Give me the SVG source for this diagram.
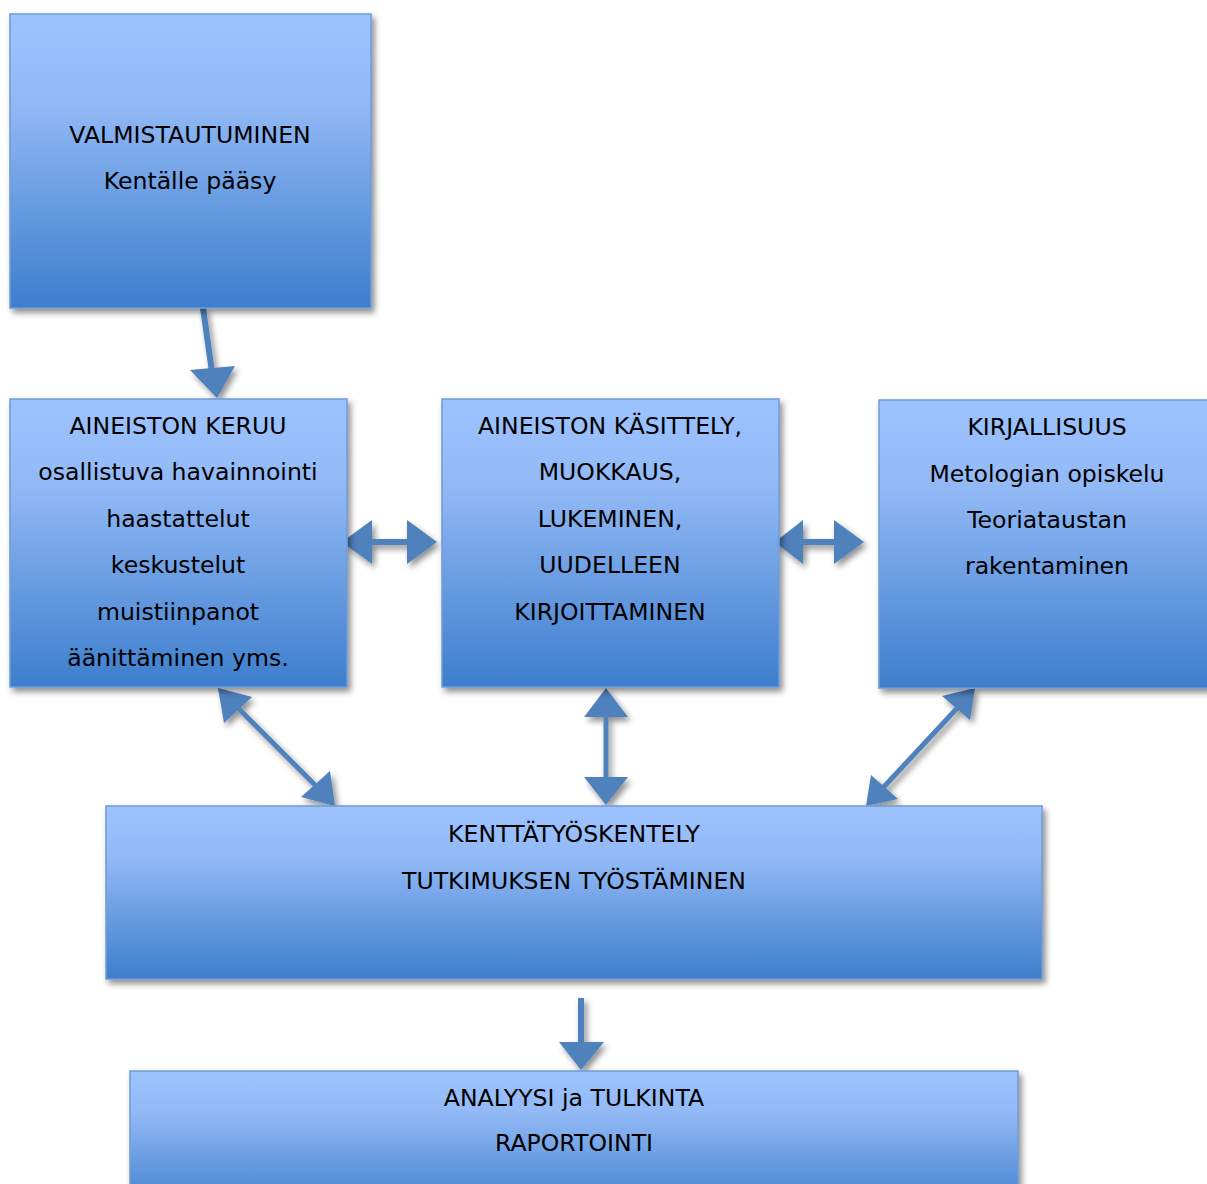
<svg xmlns="http://www.w3.org/2000/svg" width="1207" height="1184" viewBox="0 0 1207 1184">
<defs>
<linearGradient id="g" x1="0" y1="0" x2="0" y2="1">
<stop offset="0" stop-color="#9dc3ff"/>
<stop offset="0.3" stop-color="#92b9f6"/>
<stop offset="1" stop-color="#3d7ecc"/>
</linearGradient>
<filter id="sh" x="-10%" y="-10%" width="130%" height="130%">
<feGaussianBlur in="SourceAlpha" stdDeviation="3"/>
<feOffset dx="3" dy="4" result="b"/>
<feComponentTransfer><feFuncA type="linear" slope="0.45"/></feComponentTransfer>
<feMerge><feMergeNode/><feMergeNode in="SourceGraphic"/></feMerge>
</filter>
</defs>
<style>
.box{fill:url(#g);stroke:#6f9bd6;stroke-width:1.5;filter:url(#sh)}
text{font-family:"DejaVu Sans","Liberation Sans",sans-serif;font-size:23.6px;fill:#000;text-anchor:middle}
.arr{fill:#4f81bd;stroke:none}
.ln{stroke:#4f81bd;fill:none}
</style>
<rect width="1207" height="1184" fill="#ffffff"/>
<g id="connectors" filter="url(#sh)">
<line class="ln" x1="203" y1="308" x2="212" y2="372" stroke-width="6"/>
<polygon class="arr" points="190,370 235,366 217,398"/>
<line class="ln" x1="368" y1="542" x2="412" y2="542" stroke-width="6"/>
<polygon class="arr" points="342,542 372,520 372,564"/>
<polygon class="arr" points="437,542 407,520 407,564"/>
<line class="ln" x1="800" y1="542" x2="838" y2="542" stroke-width="6"/>
<polygon class="arr" points="775,542 803,520 803,564"/>
<polygon class="arr" points="864,542 834,520 834,564"/>
<line class="ln" x1="606" y1="712" x2="606" y2="782" stroke-width="5"/>
<polygon class="arr" points="606,688 584,717 628,717"/>
<polygon class="arr" points="606,805 584,777 628,777"/>
<line class="ln" x1="232" y1="702" x2="320" y2="790" stroke-width="5"/>
<polygon class="arr" points="218,688 252,697 224,723"/>
<polygon class="arr" points="335,806 301,797 330,771"/>
<line class="ln" x1="962" y1="703" x2="880" y2="791" stroke-width="5"/>
<polygon class="arr" points="975,688 970,720 942,696"/>
<polygon class="arr" points="866,806 871,775 898,799"/>
<line class="ln" x1="581" y1="998" x2="581" y2="1046" stroke-width="6"/>
<polygon class="arr" points="559,1042 604,1042 581,1070"/>
</g>
<g id="n1">
<rect class="box" x="10" y="14" width="361" height="294"/>
<text x="190" y="143">VALMISTAUTUMINEN</text>
<text x="190" y="189">Kentälle pääsy</text>
</g>
<g id="n2">
<rect class="box" x="10" y="399" width="337" height="288"/>
<text x="178" y="434">AINEISTON KERUU</text>
<text x="178" y="480">osallistuva havainnointi</text>
<text x="178" y="527">haastattelut</text>
<text x="178" y="573">keskustelut</text>
<text x="178" y="620">muistiinpanot</text>
<text x="178" y="666">äänittäminen yms.</text>
</g>
<g id="n3">
<rect class="box" x="442" y="399" width="337" height="288"/>
<text x="610" y="434">AINEISTON KÄSITTELY,</text>
<text x="610" y="480">MUOKKAUS,</text>
<text x="610" y="527">LUKEMINEN,</text>
<text x="610" y="573">UUDELLEEN</text>
<text x="610" y="620">KIRJOITTAMINEN</text>
</g>
<g id="n4">
<rect class="box" x="879" y="400" width="340" height="288"/>
<text x="1047" y="435">KIRJALLISUUS</text>
<text x="1047" y="482">Metologian opiskelu</text>
<text x="1047" y="528">Teoriataustan</text>
<text x="1047" y="574">rakentaminen</text>
</g>
<g id="n5">
<rect class="box" x="106" y="806" width="936" height="173"/>
<text x="574" y="842">KENTTÄTYÖSKENTELY</text>
<text x="574" y="889">TUTKIMUKSEN TYÖSTÄMINEN</text>
</g>
<g id="n6">
<rect class="box" x="130" y="1071" width="888" height="140"/>
<text x="574" y="1106">ANALYYSI ja TULKINTA</text>
<text x="574" y="1151">RAPORTOINTI</text>
</g>
</svg>
